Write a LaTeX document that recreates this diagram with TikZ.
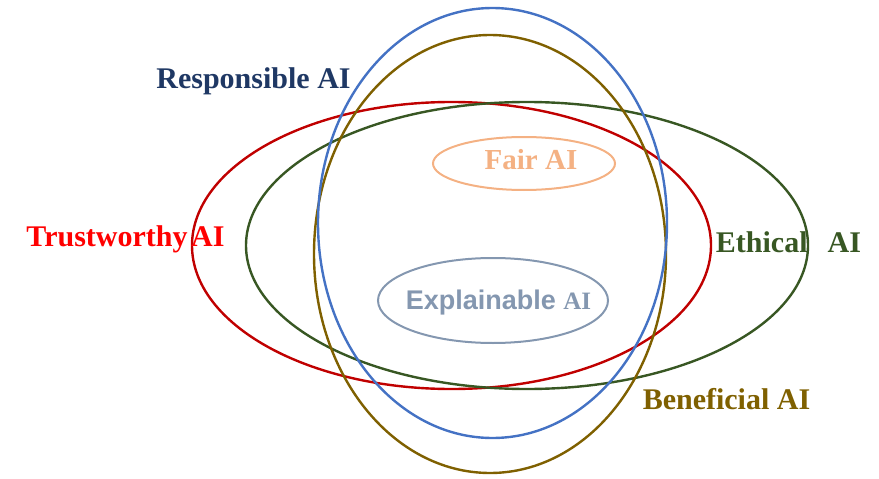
\documentclass[tikz,border=0pt]{standalone}
\usepackage{fontspec}
\setmainfont{Liberation Serif}
\setsansfont{Liberation Sans}
\usetikzlibrary{shapes.geometric}

\definecolor{respblue}{RGB}{68,114,196}
\definecolor{respnavy}{RGB}{31,56,100}
\definecolor{benefgold}{RGB}{127,96,0}
\definecolor{trustred}{RGB}{192,0,0}
\definecolor{trusttext}{RGB}{255,0,0}
\definecolor{ethicgreen}{RGB}{56,87,35}
\definecolor{fairpeach}{RGB}{244,177,131}
\definecolor{explgray}{RGB}{132,151,176}

\begin{document}
\begin{tikzpicture}[
  x=1pt, y=-1pt,
  ring/.style={ellipse, draw, line width=2.4pt, inner sep=0pt, fill=none},
  smallring/.style={ring, line width=2pt},
  tag/.style={anchor=base, inner sep=0pt, font=\fontsize{30}{36}\selectfont\bfseries},
]
\useasboundingbox (0,0) rectangle (879,479);

% Large sets
\node[ring, draw=trustred, minimum width=519pt, minimum height=287pt] (trust) at (451.5,245.5) {};
\node[ring, draw=ethicgreen, minimum width=562pt, minimum height=287pt] (ethic) at (527,245.5) {};
\node[ring, draw=benefgold, minimum width=352pt, minimum height=438pt] (benef) at (490,254) {};
\node[ring, draw=respblue, minimum width=349pt, minimum height=430pt] (resp) at (492.5,223) {};

% Inner sets
\node[smallring, draw=fairpeach, minimum width=182pt, minimum height=53pt] (fair) at (524,163.5) {};
\node[smallring, draw=explgray, minimum width=230pt, minimum height=85pt] (expl) at (493,300.5) {};

% Labels
\node[tag, text=respnavy] (resplabel) at (253.5,88) {Responsible AI};
\node[tag, text=trusttext] (trustlabel) at (125.5,246) {Trustworthy\hspace{0.12em}AI};
\node[tag, text=ethicgreen] (ethiclabel) at (788.5,252) {Ethical\hspace{0.67em}AI};
\node[tag, text=benefgold] (beneflabel) at (726.5,409) {Beneficial AI};
\node[tag, text=fairpeach, font=\fontsize{29}{34}\selectfont\bfseries] (fairlabel) at (531,169) {Fair AI};
\node[tag, text=explgray, font=\fontsize{27}{32}\selectfont\bfseries] (expllabel) at (498.5,309)
  {\sffamily Explainable \rmfamily\fontsize{25}{30}\selectfont AI};

\end{tikzpicture}
\end{document}
